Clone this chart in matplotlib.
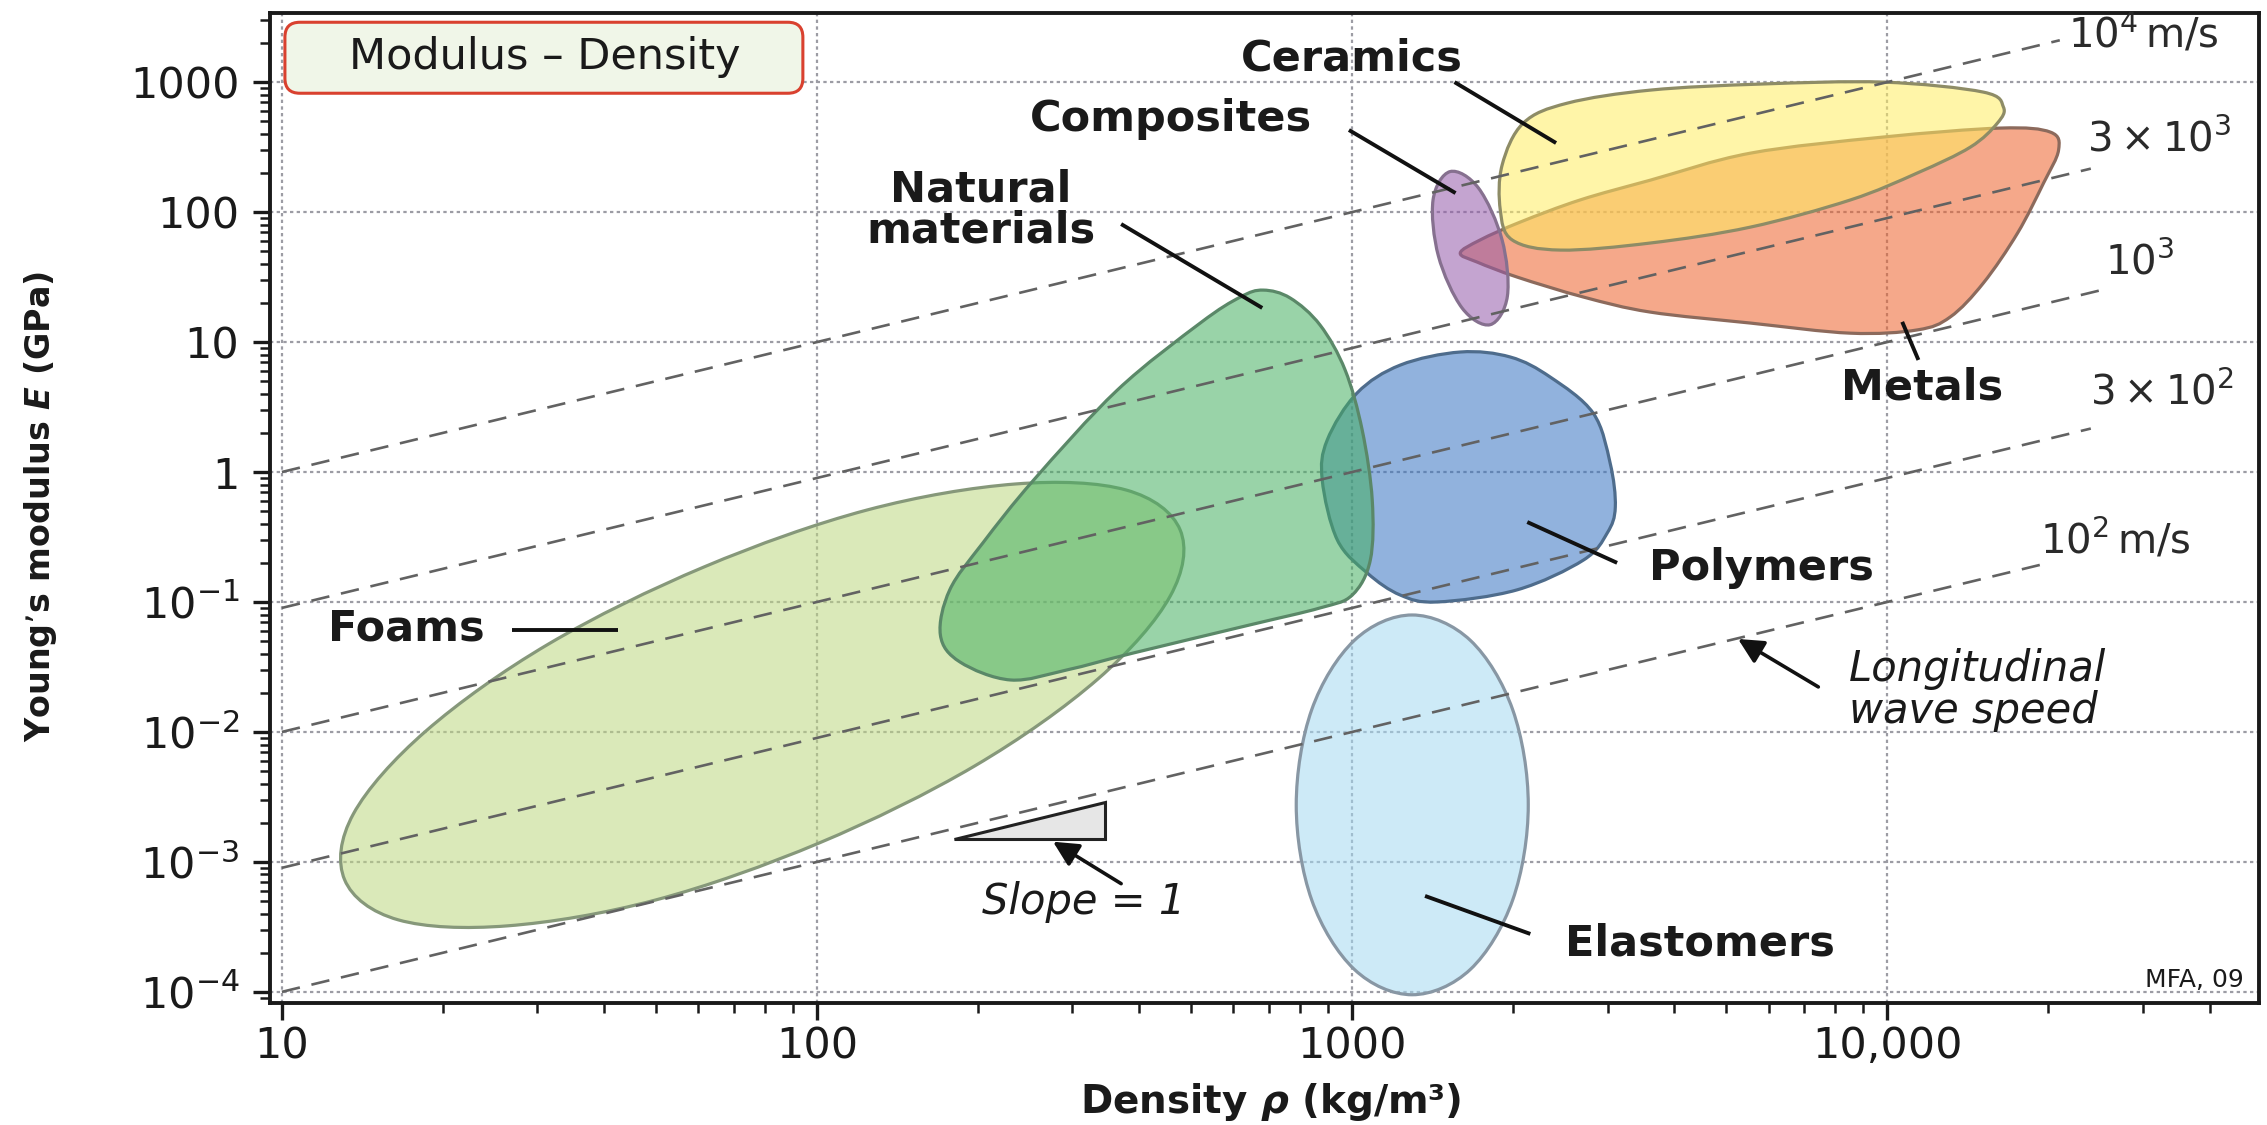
import numpy as np
import matplotlib.pyplot as plt
from matplotlib.path import Path
from matplotlib.patches import PathPatch, FancyBboxPatch, Polygon
from matplotlib.ticker import LogLocator, NullFormatter

plt.rcParams['font.family'] = 'DejaVu Sans'
plt.rcParams['mathtext.fontset'] = 'dejavusans'

# material family envelopes: density (kg/m^3) and Young's modulus (GPa)
foams_rho = [477, 457, 335, 197, 101, 50.0, 26.4, 16.5, 13.1, 13.6, 18.6, 31.5,
             61.5, 124, 235, 378]
foams_E = [0.358, 0.111, 0.0256, 5.47e-3, 1.4e-3, 5.1e-4, 3.22e-4, 3.58e-4, 7.27e-4,
           2.34e-3, 0.0102, 0.0475, 0.186, 0.51, 0.809, 0.727]

natural_rho = [230, 185, 170, 177, 204, 254, 364, 520, 618, 682, 766, 871, 970,
               1044, 1090, 1081, 1000, 871, 644, 390, 293]
natural_E = [0.0251, 0.0345, 0.0557, 0.124, 0.284, 0.868, 4.27, 14.0, 22.2, 25.1,
             21.8, 13.5, 6.09, 2.1, 0.609, 0.21, 0.113, 0.09, 0.0666, 0.0405, 0.03]

polymers_rho = [1592, 1974, 2344, 2820, 3034, 3102, 2997, 2704, 2034, 1442, 1230,
                1067, 938, 879, 898, 1021, 1230]
polymers_E = [8.38, 7.67, 5.38, 2.84, 1.17, 0.538, 0.34, 0.21, 0.124, 0.1, 0.113,
              0.167, 0.3, 0.868, 1.76, 4.05, 6.65]

elastomers_rho = [1294, 1663, 1995, 2133, 1995, 1663, 1294, 1009, 840, 786, 840, 1009]
elastomers_E = [0.0794, 0.0506, 0.0148, 2.74e-3, 5.1e-4, 1.49e-4, 9.5e-5, 1.49e-4,
                5.1e-4, 2.74e-3, 0.0148, 0.0506]

composites_rho = [1811, 1950, 1906, 1722, 1524, 1416, 1449, 1604]
composites_E = [13.6, 22.6, 61, 153, 205, 124, 45.9, 18.3]

ceramics_rho = [1991, 1891, 1906, 2088, 2523, 3606, 5794, 9834, 15110, 16480, 16060,
                14290, 11380, 8531, 5546, 3606, 2449]
ceramics_E = [61, 104, 230, 484, 689, 868, 966, 1000, 838, 642, 484, 316, 200, 124,
              76.6, 57.8, 51]

metals_rho = [1592, 1734, 2061, 2667, 3606, 5546, 9834, 16260, 20180, 20890, 19580,
              17510, 15110, 13110, 11380, 8531, 5546, 3606, 2704, 2034, 1713]
metals_E = [48.4, 61, 83.8, 124, 176, 284, 378, 443, 412, 300, 167, 68.9, 28.4,
            15.6, 12.4, 11.7, 14.0, 17.0, 22.2, 31.6, 41.2]

# longitudinal wave speed guide lines, E = rho * v^2
speeds = [1e2, 3e2, 1e3, 3e3, 1e4]
speed_start_rho = 10
speed_end_rho = [2.0e4, 2.4e4, 2.6e4, 2.4e4, 2.1e4]
speed_labels = [r'$10^2\,$m/s', r'$3\times10^2$', r'$10^3$', r'$3\times10^3$', r'$10^4\,$m/s']
speed_label_rho = [19300, 23900, 25500, 23600, 21800]
speed_label_E = [0.3, 4.05, 40.5, 358, 2300]

# family names, label anchors and leader lines
family_names = ['Foams', 'Natural\nmaterials', 'Polymers', 'Elastomers',
                'Composites', 'Ceramics', 'Metals']
family_label_rho = [17.1, 202, 5808, 4467, 459, 1000, 11610]
family_label_E = [0.063, 104, 0.183, 2.34e-4, 519, 1530, 4.5]
leader_rho = [(26.9, 42.5), (370, 679), (3126, 2124), (2152, 1368), (986, 1560),
              (1553, 2404), (11430, 10660)]
leader_E = [(0.061, 0.061), (80.9, 18.3), (0.2, 0.412), (2.79e-4, 5.47e-4),
            (428, 140), (1000, 340), (7.28, 14.3)]

# slope triangle
slope = 1
tri_rho = [180, 345]
tri_E0 = 1.5e-3

x_ticks = [10, 100, 1000, 10000]
x_ticklabels = ['10', '100', '1000', '10,000']
y_ticks = [1e-4, 1e-3, 1e-2, 1e-1, 1, 10, 100, 1000]
y_ticklabels = [r'$10^{-4}$', r'$10^{-3}$', r'$10^{-2}$', r'$10^{-1}$', '1', '10', '100', '1000']

ink = '#1a1a1a'


def envelope(ax, rho, E, face, edge, alpha):
    # closed Catmull-Rom outline through the points, built in log space
    p = np.column_stack([np.log10(rho), np.log10(E)])
    n = len(p)
    verts = [p[0]]
    codes = [Path.MOVETO]
    for i in range(n):
        p0, p1, p2, p3 = p[i - 1], p[i], p[(i + 1) % n], p[(i + 2) % n]
        verts += [p1 + (p2 - p0) / 6, p2 - (p3 - p1) / 6, p2]
        codes += [Path.CURVE4] * 3
    verts.append(p[0])
    codes.append(Path.CLOSEPOLY)
    path = Path(10 ** np.array(verts), codes)
    fc = plt.matplotlib.colors.to_rgba(face, alpha)
    ax.add_patch(PathPatch(path, facecolor=fc, edgecolor=edge, lw=2.3, zorder=2))


fig = plt.figure(figsize=(22.67, 11.25), dpi=100)
ax = fig.add_axes([0.1191, 0.1084, 0.8774, 0.880])
ax.set_xscale('log')
ax.set_yscale('log')

ax.grid(True, which='major', color='#9c9ca4', lw=1.6, ls=(0, (1.5, 1.5)))
ax.set_axisbelow(True)

a = 0.55
envelope(ax, foams_rho, foams_E, '#bdd780', '#86987a', a)
envelope(ax, polymers_rho, polymers_E, '#3773c1', '#4e6c8c', a)
envelope(ax, natural_rho, natural_E, '#45af61', '#5a8868', a)
envelope(ax, elastomers_rho, elastomers_E, '#a4d9f2', '#8897a4', a)
envelope(ax, metals_rho, metals_E, '#ed612a', '#8c6a5c', a)
envelope(ax, composites_rho, composites_E, '#9459aa', '#86708f', a)
envelope(ax, ceramics_rho, ceramics_E, '#ffed61', '#8e8c66', a)

for v, r_end in zip(speeds, speed_end_rho):
    rho = np.array([speed_start_rho, r_end])
    ax.plot(rho, rho * v ** 2 / 1e9, color='#626262', lw=1.9, dashes=(7, 4.5), zorder=3)

for lab, x, y in zip(speed_labels, speed_label_rho, speed_label_E):
    ax.text(x, y, lab, fontsize=29, color='#2a2a2a', ha='left', va='center', zorder=5)

for name, x, y, lr, le in zip(family_names, family_label_rho, family_label_E,
                              leader_rho, leader_E):
    ax.plot(lr, le, color='#111111', lw=2.8, solid_capstyle='butt', zorder=4)
    ax.text(x, y, name, fontsize=31, fontweight='bold', color=ink, ha='center',
            va='center', linespacing=0.95, zorder=5)

# slope = 1 triangle
tri = Polygon([[tri_rho[0], tri_E0], [tri_rho[1], tri_E0],
               [tri_rho[1], tri_E0 * (tri_rho[1] / tri_rho[0]) ** slope]],
              closed=True, facecolor='#e6e6e6', edgecolor='#222222', lw=2.2, zorder=4)
ax.add_patch(tri)
ax.annotate('', xy=(276, 1.43e-3), xytext=(370, 6.8e-4),
            arrowprops=dict(arrowstyle='-|>', color='#111111', lw=2.6,
                            mutation_scale=38, shrinkA=0, shrinkB=0), zorder=4)
ax.text(315, 4.9e-4, 'Slope = 1', fontsize=30, style='italic', color=ink,
        ha='center', va='center', zorder=5)

ax.annotate('', xy=(5260, 0.0519), xytext=(7430, 0.0222),
            arrowprops=dict(arrowstyle='-|>', color='#111111', lw=2.6,
                            mutation_scale=38, shrinkA=0, shrinkB=0), zorder=4)
ax.text(8490, 0.021, 'Longitudinal\nwave speed', fontsize=30, style='italic',
        color=ink, ha='left', va='center', linespacing=1.0, zorder=5)

ax.text(0.9925, 0.023, 'MFA, 09', transform=ax.transAxes, fontsize=18, color=ink,
        ha='right', va='center')

# title box
box = FancyBboxPatch((0.0075, 0.919), 0.2604, 0.0717,
                     boxstyle='round,pad=0,rounding_size=0.0075',
                     mutation_aspect=1989 / 990, transform=ax.transAxes,
                     facecolor='#f0f6e8', edgecolor='#d9412f', lw=2.2, zorder=6)
ax.add_patch(box)
ax.text(0.1383, 0.9556, 'Modulus \u2013 Density', transform=ax.transAxes,
        fontsize=31, color=ink, ha='center', va='center', zorder=7)

ax.set_xlim(9.5, 4.95e4)
ax.set_ylim(8.2e-5, 3400)
ax.set_xticks(x_ticks, x_ticklabels)
ax.set_yticks(y_ticks, y_ticklabels)
ax.xaxis.set_minor_locator(LogLocator(base=10, subs=np.arange(2, 10), numticks=100))
ax.yaxis.set_minor_locator(LogLocator(base=10, subs=np.arange(2, 10), numticks=100))
ax.xaxis.set_minor_formatter(NullFormatter())
ax.yaxis.set_minor_formatter(NullFormatter())
ax.tick_params(which='major', direction='out', length=12, width=2.4, labelsize=31,
               colors=ink)
ax.tick_params(which='minor', direction='out', length=7, width=1.8, colors=ink)
ax.tick_params(axis='x', which='major', pad=4)
ax.tick_params(axis='y', which='major', pad=10)
for s in ax.spines.values():
    s.set_linewidth(2.8)
    s.set_color(ink)

ax.set_xlabel(r'Density $\mathbfit{\rho}$ (kg/m³)', fontsize=28, fontweight='bold',
              color=ink, va='center')
ax.xaxis.set_label_coords(0.503, -0.100)
ax.set_ylabel(r'Young’s modulus $\mathbfit{E}$ (GPa)', fontsize=24,
              fontweight='bold', color=ink, va='center')
ax.yaxis.set_label_coords(-0.1156, 0.502)

fig.savefig('out.png', dpi=100)
